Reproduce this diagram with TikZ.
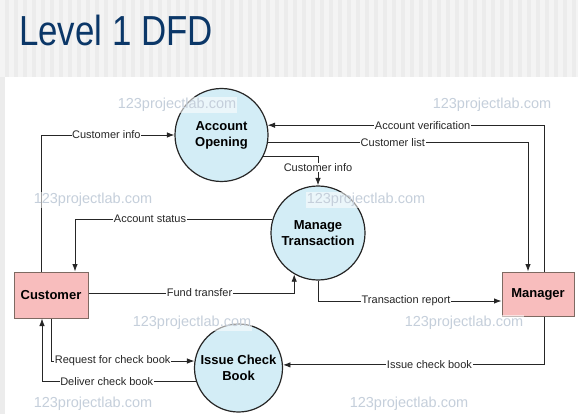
\documentclass[tikz,border=0pt]{standalone}
\usepackage{fontspec}
\setmainfont{Liberation Sans}
\usetikzlibrary{arrows.meta}
\definecolor{titleblue}{HTML}{0B3768}
\definecolor{procfill}{HTML}{D3EDF6}
\definecolor{entfill}{HTML}{F8BDBD}
\definecolor{entdraw}{HTML}{7E6A62}
\definecolor{wmark}{HTML}{C5CFDB}
\definecolor{stripeA}{HTML}{ECECEC}
\definecolor{stripeB}{HTML}{F4F4F4}
\tikzset{
  proc/.style={circle, draw=black!85, line width=1.2pt, fill=procfill, inner sep=0pt,
    align=center, font=\fontsize{13}{16}\selectfont\bfseries},
  ent/.style={rectangle, draw=entdraw, line width=1pt, fill=entfill, inner sep=0pt,
    font=\fontsize{13}{16}\selectfont\bfseries},
  flow/.style={draw=black!85, line width=0.9pt, -{Latex[length=7.5pt,width=5.5pt]}},
  lab/.style={fill=white, inner sep=0.6pt, font=\fontsize{11}{12}\selectfont, text=black!85},
  wm/.style={font=\fontsize{14.5}{16}\selectfont, text=wmark, fill=white, fill opacity=0.55, text opacity=1, inner sep=1pt}
}
\begin{document}
\begin{tikzpicture}[x={(1pt,0)}, y={(0,-1pt)}]
\useasboundingbox (0,0) rectangle (578,414);
% background
\fill[stripeA] (0,0) rectangle (578,414);
\foreach \i in {0,...,64} {\fill[stripeB] (\i*9,0) rectangle (\i*9+4.5,77);}
\fill[white] (5,77) rectangle (578,414);
% title
\node[anchor=base west, inner sep=0pt, text=titleblue, font=\fontsize{42}{44}\selectfont] (title) at (19,46) {\scalebox{0.83}[1]{Level 1 DFD}};
% nodes
\node[proc, minimum size=93pt] (ao) at (221.5,135) {Account\\Opening};
\node[proc, minimum size=94pt] (mt) at (318,233) {Manage\\Transaction};
\node[proc, minimum size=88pt] (icb) at (238.5,368) {Issue Check\\Book};
\node[ent, minimum width=74pt, minimum height=46pt] (cust) at (51,295) {Customer};
\node[ent, minimum width=72pt, minimum height=44pt] (mgr) at (538,294) {Manager};
% connectors
\draw[flow] ([xshift=-10pt]cust.north) |- node[lab, pos=0.745] {Customer info} (ao.west);
\draw[flow] ([xshift=6.5pt]mgr.north) |- node[lab, pos=0.72] {Account verification} (ao.12);
\draw[flow] (ao.-9) -| node[lab, pos=0.24] {Customer list} ([xshift=-10pt]mgr.north);
\draw[flow] (ao.-27) -| node[lab, pos=0.69] {Customer info} (mt.north);
\draw[flow] (mt.163) -| node[lab, pos=0.31] {Account status} ([xshift=24pt]cust.north);
\draw[flow] ([yshift=2pt]cust.east) -| node[lab, pos=0.27] {Fund transfer} (mt.-120);
\draw[flow] (mt.south) |- node[lab, pos=0.74] {Transaction report} ([yshift=-7pt]mgr.west);
\draw[flow] (cust.south) |- node[lab, pos=0.715] {Request for check book} (icb.171);
\draw[flow] (icb.198) -| node[lab, pos=0.29] {Deliver check book} ([xshift=-9pt]cust.south);
\draw[flow] ([xshift=6.5pt]mgr.south) |- node[lab, pos=0.72] {Issue check book} (icb.4);
% watermarks
\node[wm] (w1) at (177,105) {123projectlab.com};
\node[wm] (w2) at (492,105) {123projectlab.com};
\node[wm] (w3) at (93,200) {123projectlab.com};
\node[wm] (w4) at (366,200) {123projectlab.com};
\node[wm] (w5) at (192,323) {123projectlab.com};
\node[wm] (w6) at (464,323) {123projectlab.com};
\node[wm] (w7) at (93,404) {123projectlab.com};
\node[wm] (w8) at (409,404) {123projectlab.com};
\end{tikzpicture}
\end{document}
